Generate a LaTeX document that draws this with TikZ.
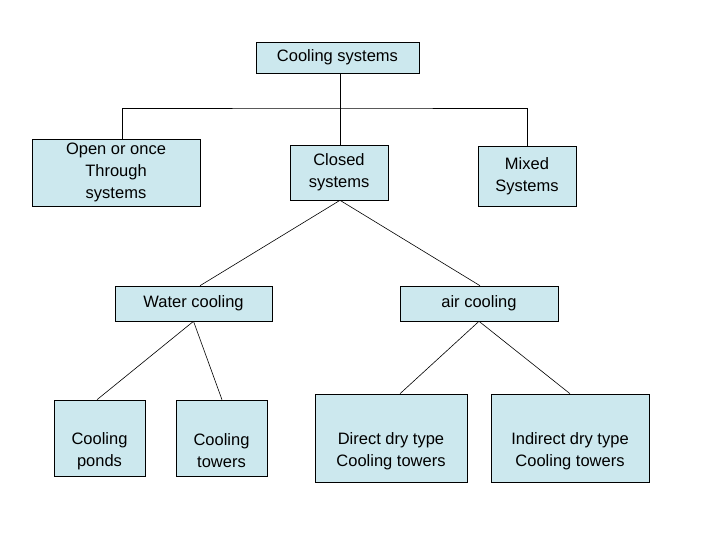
\documentclass[tikz,border=0pt]{standalone}
\usepackage{fontspec}
\setmainfont{Liberation Sans}
\begin{document}
\begin{tikzpicture}[x=1pt,y=-1pt,
 box/.style={draw=black, fill=boxc, line width=0.6pt, align=center, font=\fontsize{16.5}{22}\selectfont, inner sep=0pt},
 ln/.style={line width=0.6pt}]
\definecolor{boxc}{HTML}{CCE8EE}
\useasboundingbox (0,0) rectangle (728,546);
\def\bx#1#2#3#4#5#6{\node[box, minimum width=#4-#2, minimum height=#5-#3] (#1) at ({(#2+#4)/2},{(#3+#5)/2}) {#6};}
\def\lowbx#1#2#3#4#5#6{\node[box, minimum width=#4-#2, minimum height=#5-#3, text depth=14pt] (#1) at ({(#2+#4)/2},{(#3+#5)/2}) {};
 \node[align=center, font=\fontsize{16.5}{22}\selectfont, inner sep=0pt] at ({(#2+#4)/2},{(#3+#5)/2+13}) {#6};}
\bx{cs}{256}{42}{419}{73}{Cooling systems}
\bx{op}{32}{139}{200}{206}{Open or once\\ Through\\ systems}
\bx{cl}{290}{145}{388}{200}{Closed\\systems}
\bx{mx}{478}{146}{576}{206}{Mixed\\Systems}
\bx{wc}{115}{286}{272}{321}{Water cooling}
\bx{ac}{400}{286}{558}{321}{air cooling}
\lowbx{cp}{54}{400}{145}{476}{Cooling\\ ponds}
\lowbx{ct}{176}{400}{267}{476}{Cooling\\ towers}
\lowbx{dd}{315}{394}{467}{482}{Direct dry type\\Cooling towers}
\lowbx{id}{491}{394}{649}{482}{Indirect dry type\\Cooling towers}
\coordinate (j) at (340,108);
\draw[ln] (cs.south -| j) -- (j);
\draw[ln] (op.north -| 122,0) |- (j) -| (mx.north);
\draw[ln] (j) -- (cl.north -| j);
\draw[ln] (cl.south -| j) -- (wc.north -| 200,0);
\draw[ln] (cl.south -| j) -- (ac.north -| 480,0);
\draw[ln] (wc.south) -- (cp.north -| 97,0);
\draw[ln] (wc.south) -- (ct.north -| 222,0);
\draw[ln] (ac.south) -- (dd.north -| 400,0);
\draw[ln] (ac.south) -- (id.north -| 570,0);
\end{tikzpicture}
\end{document}
